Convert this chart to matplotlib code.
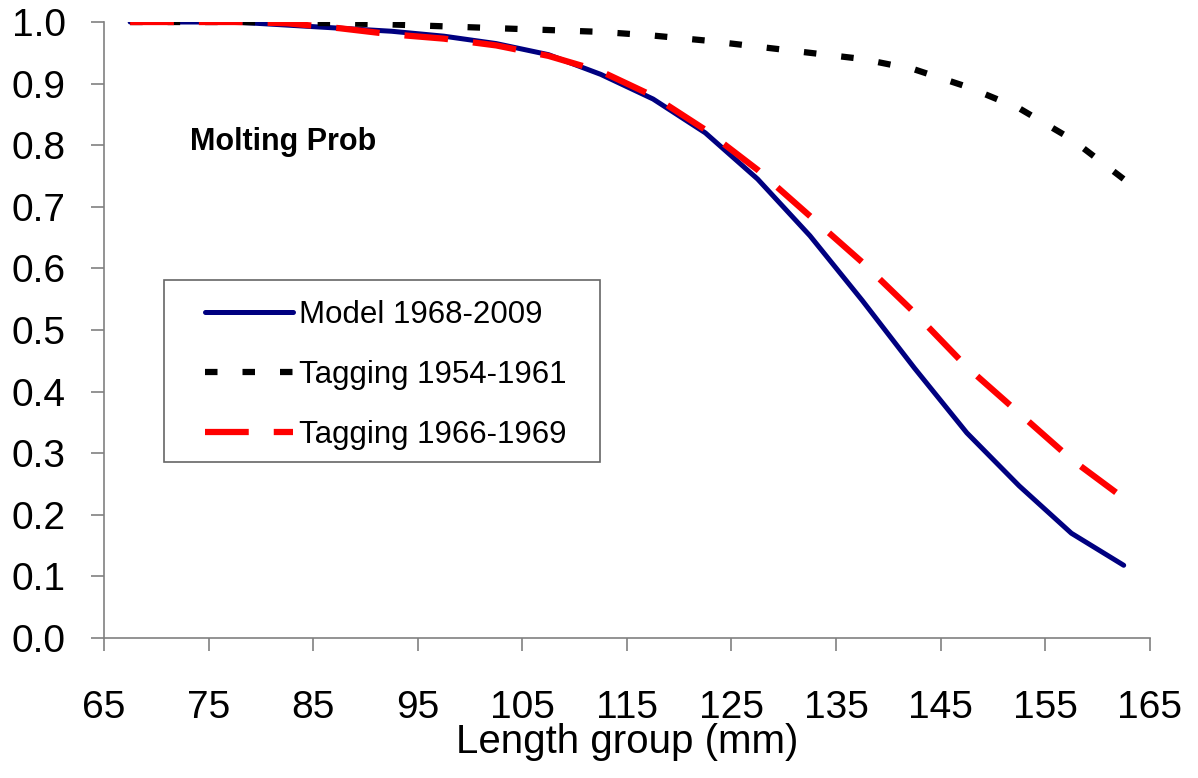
import numpy as np
import matplotlib.pyplot as plt
from matplotlib.patches import Rectangle

# length group midpoints (mm)
length = [67.5, 72.5, 77.5, 82.5, 87.5, 92.5, 97.5, 102.5, 107.5, 112.5,
          117.5, 122.5, 127.5, 132.5, 137.5, 142.5, 147.5, 152.5, 157.5, 162.5]
model = [1.0, 1.0, 1.0, 0.995, 0.99, 0.985, 0.977, 0.965, 0.947, 0.915,
         0.875, 0.82, 0.745, 0.653, 0.548, 0.438, 0.333, 0.247, 0.17, 0.118]
tag5461 = [1.0, 1.0, 1.0, 0.999, 0.998, 0.996, 0.993, 0.99, 0.987, 0.984,
           0.978, 0.97, 0.96, 0.95, 0.94, 0.923, 0.895, 0.86, 0.81, 0.745]
tag6669 = [1.0, 1.0, 1.0, 0.998, 0.99, 0.98, 0.973, 0.962, 0.945, 0.92,
           0.88, 0.825, 0.76, 0.685, 0.61, 0.528, 0.44, 0.365, 0.29, 0.227]

xticks = np.arange(65, 166, 10)
yticks = np.arange(0, 1.01, 0.1)

plt.rcParams['font.family'] = ['Liberation Sans', 'DejaVu Sans']

fig = plt.figure(figsize=(11.98, 7.78), dpi=100)
ax = fig.add_axes([0.0868, 0.18, 0.873, 0.7917])

ax.plot(length, model, color='#000080', lw=3.6, solid_capstyle='round',
        label='Model 1968-2009')
ax.plot(length, tag5461, color='black', lw=4.5, dashes=(2, 4),
        dash_capstyle='butt', label='Tagging 1954-1961')
ax.plot(length, tag6669, color='#FF0000', lw=4.5, dashes=(7, 4),
        dash_capstyle='butt', label='Tagging 1966-1969')

ax.set_xlim(65, 165)
ax.set_ylim(0, 1.0)
ax.set_xticks(xticks)
ax.set_yticks(yticks)
ax.set_yticklabels(['%.1f' % v for v in yticks])
for s in ['top', 'right']:
    ax.spines[s].set_visible(False)
for s in ['left', 'bottom']:
    ax.spines[s].set_color('#808080')
    ax.spines[s].set_linewidth(1.2)
ax.tick_params(axis='x', direction='out', length=9.5, width=1.2, color='#808080',
               labelsize=28, pad=28)
ax.tick_params(axis='y', direction='out', length=9.5, width=1.2, color='#808080',
               labelsize=28, pad=18)
ax.set_xlabel('Length group (mm)', fontsize=29, labelpad=-2)

ax.text(0.082, 0.806, 'Molting Prob', transform=ax.transAxes,
        fontsize=22, fontweight='bold', va='center', ha='left')

# legend box drawn separately so the padding can differ left/top
ax.add_patch(Rectangle((0.0574, 0.2857), 0.417, 0.2955, transform=ax.transAxes,
                       facecolor='white', edgecolor='#666666', lw=1.2, zorder=3))
leg = ax.legend(loc='center left', bbox_to_anchor=(0.0966, 0.427), fontsize=22.5,
                frameon=False, handlelength=2.8, handletextpad=0.22,
                labelspacing=0.95, borderpad=0, borderaxespad=0)
leg.set_zorder(4)

fig.savefig('out.png', dpi=100)
